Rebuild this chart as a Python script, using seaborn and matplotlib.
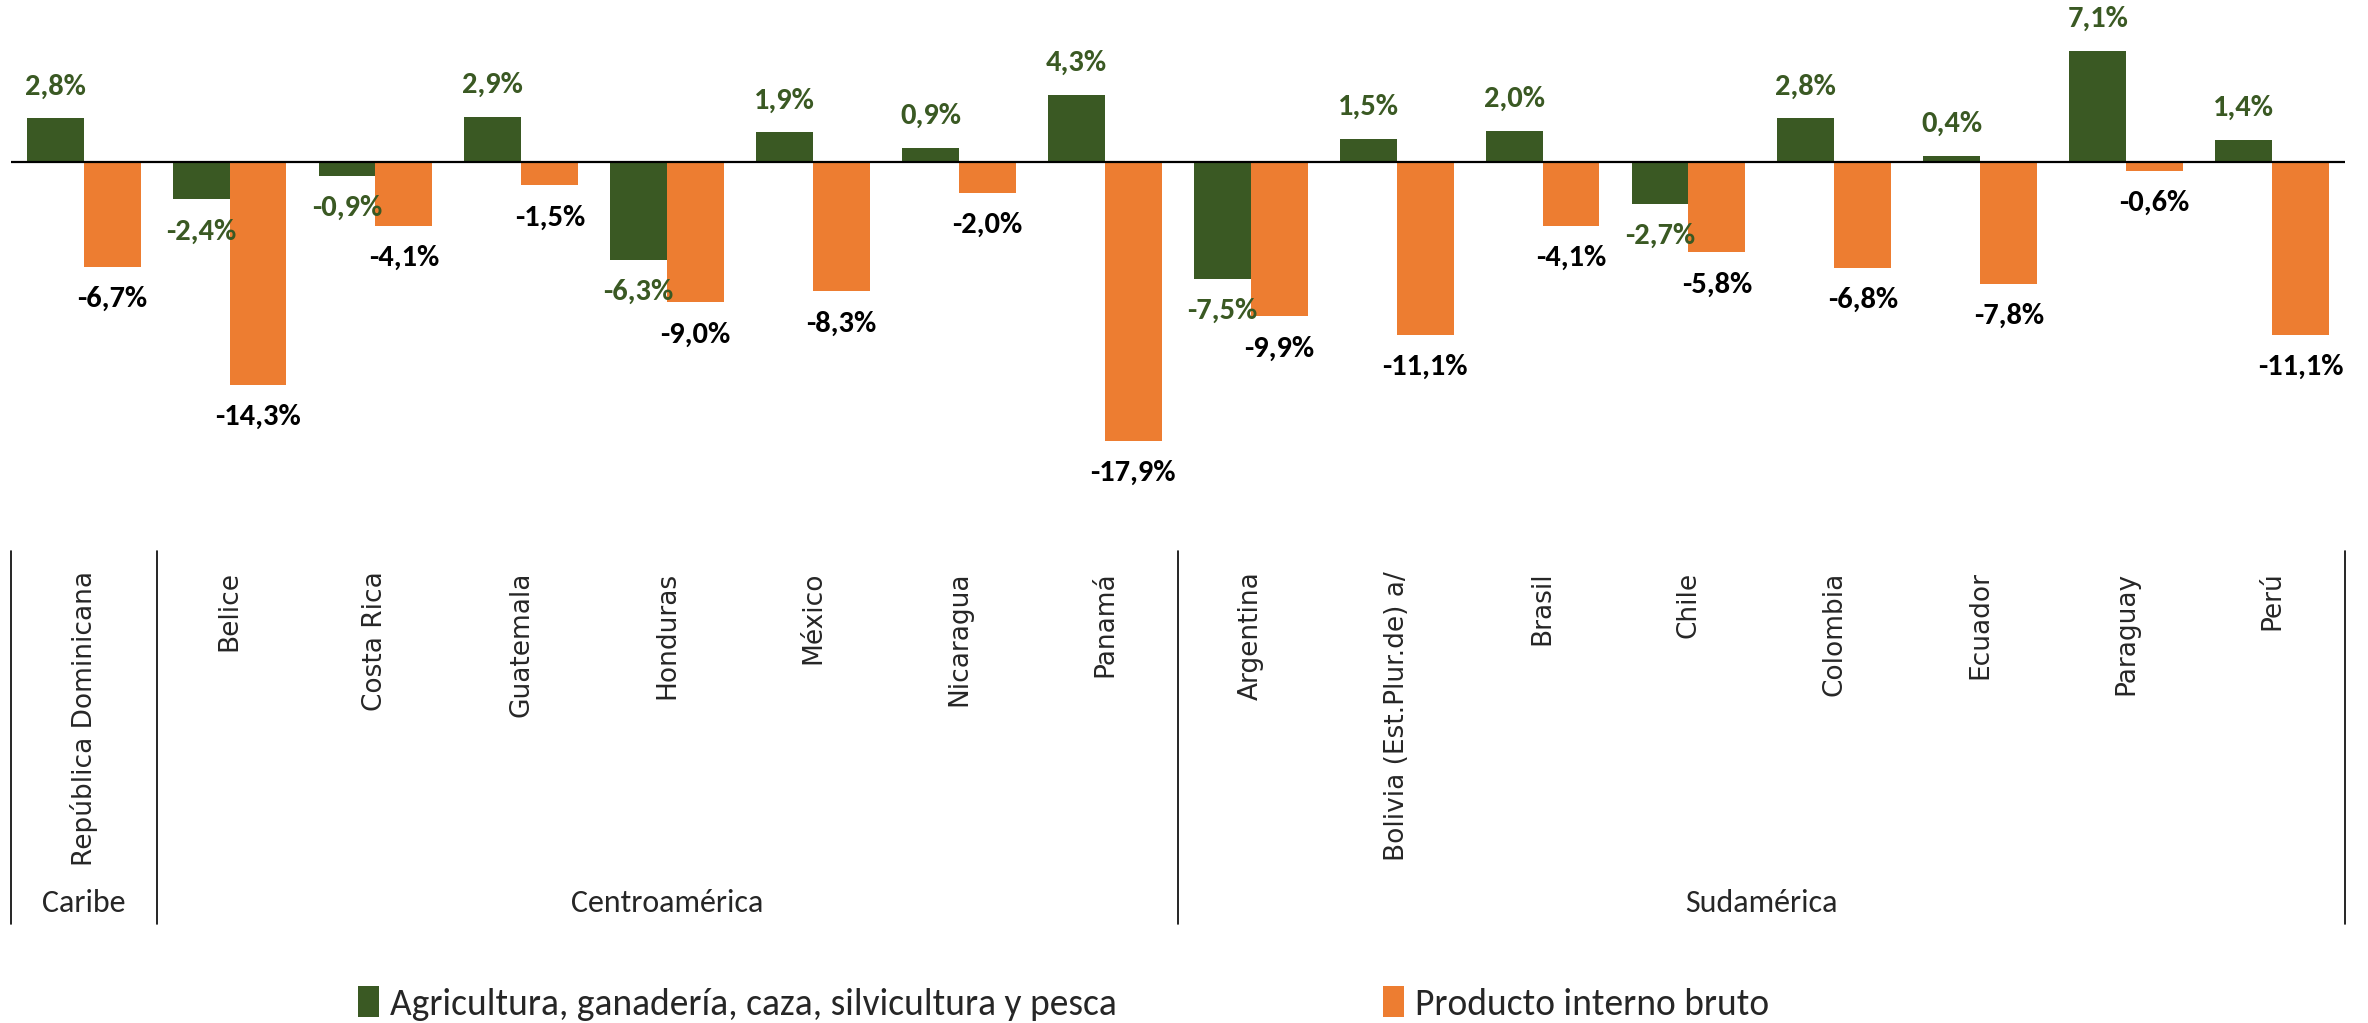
import pandas as pd
import seaborn as sns
import matplotlib.pyplot as plt
from matplotlib.transforms import blended_transform_factory

paises = ["República Dominicana", "Belice", "Costa Rica", "Guatemala", "Honduras",
          "México", "Nicaragua", "Panamá", "Argentina", "Bolivia (Est.Plur.de) a/",
          "Brasil", "Chile", "Colombia", "Ecuador", "Paraguay", "Perú"]
agricultura = [2.8, -2.4, -0.9, 2.9, -6.3, 1.9, 0.9, 4.3, -7.5, 1.5, 2.0, -2.7, 2.8, 0.4, 7.1, 1.4]
pib = [-6.7, -14.3, -4.1, -1.5, -9.0, -8.3, -2.0, -17.9, -9.9, -11.1, -4.1, -5.8, -6.8, -7.8, -0.6, -11.1]

regiones = ["Caribe", "Centroamérica", "Sudamérica"]
region_inicio = [0, 1, 8]
region_fin = [0, 7, 15]

series = ["Agricultura, ganadería, caza, silvicultura y pesca", "Producto interno bruto"]
colores = ["#3A5923", "#ED7D31"]
color_etiquetas = ["#3A5923", "black"]

sns.set_style("white")
plt.rcParams["font.family"] = ["DejaVu Sans"]
calibri = ["Carlito", "Open Sans Condensed", "DejaVu Sans"]

df = pd.DataFrame({
    "País": paises * 2,
    "Serie": [series[0]] * len(paises) + [series[1]] * len(paises),
    "Variación": agricultura + pib,
})

fig = plt.figure(figsize=(23.68, 10.23), dpi=100)
ax = fig.add_axes([0.0045, 0.4536, 0.9858, 0.539])
sns.barplot(data=df, x="País", y="Variación", hue="Serie", hue_order=series,
            palette=colores, width=0.78, saturation=1, linewidth=0, ax=ax)

ax.set_xlim(-0.5, 15.5)
ax.set_ylim(-25.45, 9.9)
ax.axhline(0, color="black", lw=1.6)
for s in ax.spines.values():
    s.set_visible(False)
ax.set_yticks([])
ax.set_xlabel("")
ax.set_ylabel("")
ax.set_xticks(range(len(paises)))
ax.set_xticklabels(paises, rotation=90, fontsize=19, va="top", ha="center")
ax.tick_params(axis="x", length=0, pad=9)

# etiquetas de valores
for cont, vals, col in zip(ax.containers, [agricultura, pib], color_etiquetas):
    for barra, v in zip(cont, vals):
        x = barra.get_x() + barra.get_width() / 2
        txt = f"{v:.1f}%".replace(".", ",")
        ax.annotate(txt, (x, v), xytext=(0, 23 if v >= 0 else -23),
                    textcoords="offset points", ha="center", va="center",
                    fontsize=22, fontweight="bold", color=col, family=calibri)

# separadores y regiones
tr = blended_transform_factory(ax.transData, fig.transFigure)
for xs in [-0.5, 0.5, 7.5, 15.5]:
    ax.plot([xs, xs], [0.4614, 0.0968], transform=tr, color="black", lw=1.2, clip_on=False)
for reg, a, b in zip(regiones, region_inicio, region_fin):
    ax.text((a + b) / 2, 0.1173, reg, transform=tr, ha="center", va="center",
            fontsize=23, family=calibri)

handles, labels = ax.get_legend_handles_labels()
ax.get_legend().remove()
fig.legend(handles, labels, loc="center", bbox_to_anchor=(0.4492, 0.019), ncol=2,
           frameon=False, prop={"family": calibri, "size": 27},
           handlelength=0.55, handleheight=0.9, handletextpad=0.3, columnspacing=7.1)

fig.savefig("out.png", dpi=100)
